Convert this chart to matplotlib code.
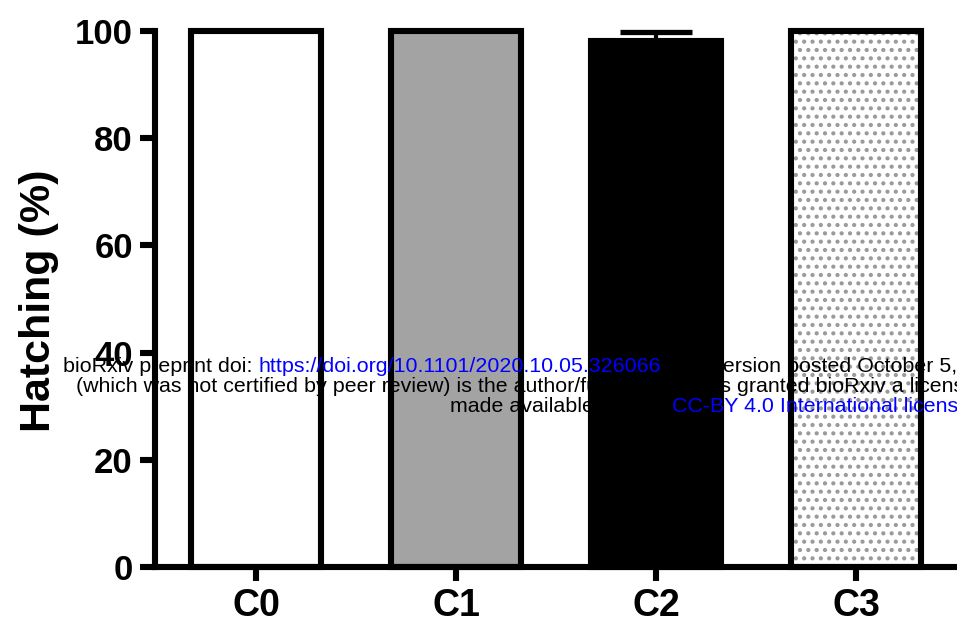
import matplotlib.pyplot as plt

# hatching rate per group (GraphPad-style bar chart)
groups = ["C0", "C1", "C2", "C3"]
hatching = [100, 100, 98.2, 100]
hatching_err = [0, 0, 1.6, 0]
y_ticks = [0, 20, 40, 60, 80, 100]

plt.rcParams['font.family'] = ['Liberation Sans', 'DejaVu Sans']
plt.rcParams['hatch.linewidth'] = 1.8

fig = plt.figure(figsize=(9.57, 6.25), dpi=100)
ax = fig.add_axes([155 / 957, 58 / 625, 802 / 957, 536 / 625])

x = list(range(len(groups)))
w = 0.65
lw = 4.4

# C0 white, C1 grey, C2 black
ax.bar(x[0], hatching[0], w, color="white", edgecolor="black", linewidth=lw, clip_on=False, zorder=2)
ax.bar(x[1], hatching[1], w, color="#a3a3a3", edgecolor="black", linewidth=lw, clip_on=False, zorder=2)
ax.bar(x[2], hatching[2], w, color="black", edgecolor="black", linewidth=lw, clip_on=False, zorder=2)
# C3 dotted: hatch layer first, then the outline
ax.bar(x[3], hatching[3], w, color="white", edgecolor="#9a9a9a", hatch="..", linewidth=0, zorder=2)
ax.bar(x[3], hatching[3], w, fill=False, edgecolor="black", linewidth=lw, clip_on=False, zorder=3)

# only the upper half of the error bar, as in the figure
ax.errorbar(x[2], hatching[2], yerr=[[0], [hatching_err[2]]], fmt="none", ecolor="black",
            elinewidth=3, capsize=26, capthick=3.8, clip_on=False, zorder=1)

ax.set_xlim(-0.505, 3.505)
ax.set_ylim(0, 100)
ax.set_yticks(y_ticks)
ax.set_xticks(x)
ax.set_xticklabels(groups, fontsize=27, fontweight="bold")
ax.set_yticklabels([str(v) for v in y_ticks], fontsize=25, fontweight="bold")

for side in ["top", "right"]:
    ax.spines[side].set_visible(False)
for side in ["left", "bottom"]:
    ax.spines[side].set_linewidth(lw)
ax.tick_params(axis="y", length=11, width=lw, pad=5)
ax.tick_params(axis="x", length=10, width=lw, pad=5)

ax.set_ylabel("Hatching (%)", fontsize=31, fontweight="bold", va="center")
ax.yaxis.set_label_coords(-0.145, 0.496)

# bioRxiv watermark lines, cropped by the right edge
fs = 15.4
t1 = fig.text(63 / 957, 1 - 372 / 625, "bioRxiv preprint doi: ", fontsize=fs, color="black")
t2 = ax.annotate("https://doi.org/10.1101/2020.10.05.326066", xy=(1, 0), xycoords=t1,
                 va="bottom", ha="left", fontsize=fs, color="blue", annotation_clip=False)
ax.annotate("; this version posted October 5, 2020. The copyright holder for this preprint",
            xy=(1, 0), xycoords=t2, va="bottom", ha="left", fontsize=fs, color="black",
            annotation_clip=False)

fig.text(76 / 957, 1 - 392 / 625,
         "(which was not certified by peer review) is the author/funder, who has granted bioRxiv a license to display the preprint in perpetuity. It is",
         fontsize=fs, color="black")

t3 = fig.text(450 / 957, 1 - 412 / 625, "made available under a", fontsize=fs, color="black")
t4 = ax.annotate("CC-BY 4.0 International license", xy=(1, 0), xycoords=t3,
                 va="bottom", ha="left", fontsize=fs, color="blue", annotation_clip=False)
ax.annotate(".", xy=(1, 0), xycoords=t4, va="bottom", ha="left", fontsize=fs,
            color="black", annotation_clip=False)

fig.savefig("out.png", dpi=100)
